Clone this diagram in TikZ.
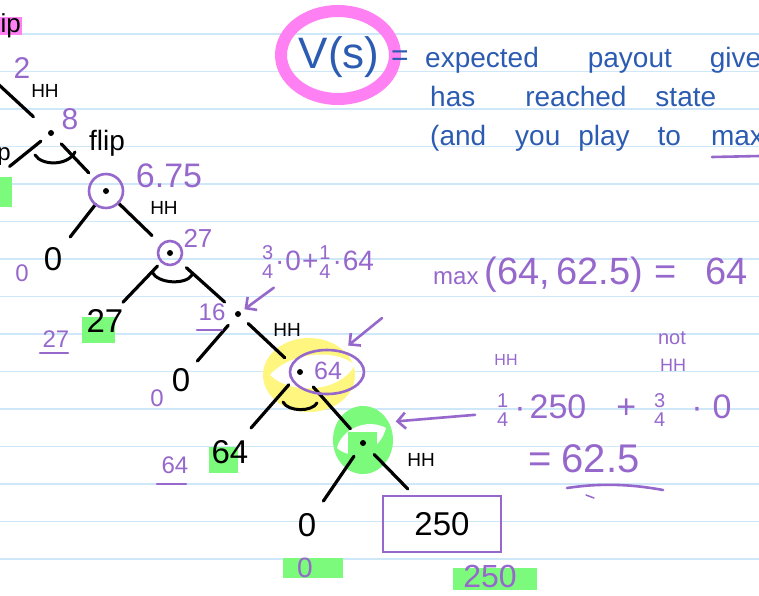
\documentclass[tikz,border=0pt]{standalone}
\usepackage{fontspec}
\setmainfont{Liberation Sans}
\usetikzlibrary{arrows.meta,calc,shapes.geometric}

\definecolor{pen}{RGB}{150,104,204}
\definecolor{ink}{RGB}{44,92,178}
\definecolor{rule}{RGB}{206,232,250}
\definecolor{hlpink}{RGB}{255,128,242}
\definecolor{hlyellow}{RGB}{255,246,128}
\definecolor{hlgreen}{RGB}{124,250,124}

\newcommand\sz[1]{\fontsize{#1}{#1}\selectfont}
\newcommand\stk[2]{{\sz{20}\begin{tabular}{@{}c@{}}#1\\[-1pt]#2\end{tabular}}}

\tikzset{
  edge/.style={line width=3.2pt, line cap=round},
  maxarc/.style={line width=3pt, line cap=round},
  dot/.style={circle, fill=black, inner sep=0pt, minimum size=6pt},
  leaf/.style={inner sep=0pt, font=\sz{33}},
  hh/.style={inner sep=0pt, font=\sz{19}},
  val/.style={inner sep=0pt, text=pen},
  penline/.style={pen, line width=2.6pt, line cap=round},
  note/.style={text=ink, inner sep=0pt, anchor=base west, font=\sz{28}},
  barb/.style={-{Straight Barb[length=8pt,width=16pt]}},
}

\begin{document}
\begin{tikzpicture}[x=1pt,y=-1pt]
\path[use as bounding box, clip] (0,0) rectangle (759,595);
\fill[white] (0,0) rectangle (759,595);
\foreach \k in {0,...,14}
  \draw[rule, line width=1.2pt] (0,34+37.5*\k) -- (759,34+37.5*\k);

% highlighter
\fill[hlpink] (0,17) rectangle (22,35);
\fill[hlgreen] (0,177) rectangle (12,207);
\fill[hlgreen] (82,317) rectangle (115,343);
\fill[hlgreen] (209,447) rectangle (238,473);
\fill[hlgreen] (283,558) rectangle (343,578);
\fill[hlgreen] (453,568) rectangle (537,590);
\fill[hlyellow] (309,375) ellipse [x radius=46, y radius=37];
\fill[white] (270,375) .. controls (290,352) and (335,348) .. (355,365)
  .. controls (340,392) and (292,396) .. (270,375);
\node[ellipse, fill=hlgreen, minimum width=60pt, minimum height=68pt, inner sep=0pt] (gblob) at (363,440) {};
\fill[white] (337,448) .. controls (342,428) and (368,418) .. (386,428)
  .. controls (380,452) and (352,462) .. (337,448);
\fill[hlgreen] (348,432) rectangle (377,457);
\draw[hlpink, line width=12pt] (338,55) ellipse [x radius=57, y radius=44];

% tree
\node[dot] (n8) at (51,133) {};
\node[dot] (n675) at (106,191) {};
\node[dot] (n27) at (170,253) {};
\node[dot] (n16) at (238,314) {};
\node[dot] (n64) at (300,372) {};
\node[dot] (nch) at (363,443) {};
\node[leaf] (l0a) at (53,259) {0};
\node[leaf] (l27) at (105,321) {27};
\node[leaf] (l0b) at (181,380) {0};
\node[leaf] (l64) at (230,452) {64};
\node[leaf] (l0c) at (307,525) {0};
\node[
    leaf,
    draw=pen,
    line width=2.6pt,
    minimum width=118pt,
    minimum height=56pt
] (l250) at (442,524) {250};
\coordinate (up) at (-29,59);
\coordinate (stop) at (-6,179);

\draw[edge, shorten >=24pt] (up) -- (n8.center);
\draw[edge, shorten <=13pt, shorten >=20pt] (n8.center) -- (stop);
\draw[edge, shorten <=15pt, shorten >=25pt] (n8.center) -- (n675.center);
\draw[edge, shorten <=17pt, shorten >=28pt] (n675.center) -- (l0a.center);
\draw[edge, shorten <=17pt, shorten >=25pt] (n675.center) -- (n27.center);
\draw[edge, shorten <=18pt, shorten >=26pt] (n27.center) -- (l27.center);
\draw[edge, shorten <=22pt, shorten >=18pt] (n27.center) -- (n16.center);
\draw[edge, shorten <=15pt, shorten >=25pt] (n16.center) -- (l0b.center);
\draw[edge, shorten <=14pt, shorten >=21pt] (n16.center) -- (n64.center);
\draw[edge, shorten <=17pt, shorten >=32pt] (n64.center) -- (l64.center);
\draw[edge, shorten <=20pt, shorten >=19pt] (n64.center) -- (nch.center);
\draw[edge, shorten <=16pt, shorten >=29pt] (nch.center) -- (l0c.center);
\draw[edge, shorten <=16pt, shorten >=8pt] (nch.center) -- (l250);

\draw[maxarc] (35,155) .. controls (42,166) and (68,166) .. (75,152);
\draw[maxarc] (152,272) .. controls (158,284) and (186,285) .. (192,275);
\draw[maxarc] (283,402) .. controls (288,412) and (312,412) .. (317,403);

% purple pen
\draw[pen, line width=2.6pt] (n675) circle [radius=17];
\draw[pen, line width=2.6pt] (n27) circle [radius=12];
\node[ellipse, draw=pen, line width=2.6pt, minimum width=74pt, minimum height=44pt, inner sep=0pt] (ring64) at (327,372) {};

\node[inner sep=0pt, font=\sz{26}, anchor=base east] (tflip) at (21,32) {ip};
\node[inner sep=0pt, font=\sz{24}, anchor=base east] (tstop) at (11,160) {op};
\node[val, font=\sz{30}] (v2) at (22,68) {2};
\node[hh] (h1) at (45,91) {HH};
\node[val, font=\sz{30}] (v8) at (70,119) {8};
\node[inner sep=0pt, font=\sz{28}] (flip) at (107,143) {flip};
\node[val, font=\sz{34}] (v675) at (169,176) {6.75};
\node[hh] (h2) at (164,208) {HH};
\node[val, font=\sz{24}] (v0a) at (22,273) {0};
\node[val, font=\sz{26}] (v27) at (198,238) {27};
\node[val, font=\sz{24}] (u27) at (56,339) {27};
\draw[penline] (40,353) -- (68,353);
\node[val, font=\sz{24}] (v16) at (212,312) {16};
\draw[penline] (197,330) -- (222,330);
\node[hh] (h3) at (287,330) {HH};
\node[val, font=\sz{28}] (f64) at (318,265) {\stk{3}{4}\hspace{2pt}·\hspace{1pt}0\hspace{1pt}+\hspace{1pt}\stk{1}{4}\hspace{2pt}·\hspace{1pt}64};
\draw[penline, barb, shorten >=8pt] ($(f64.south west)+(12,3)$) -- (n16.center);
\node[val, font=\sz{25}] (v64) at (328,371) {64};
\coordinate (amx) at (382,318);
\draw[penline, barb, shorten >=8pt] (amx) -- (ring64.55);
\node[val, font=\sz{24}] (v0b) at (157,398) {0};
\node[val, font=\sz{24}] (u64) at (175,465) {64};
\draw[penline] (157,484) -- (186,484);
\node[hh] (h4) at (421,460) {HH};
\node[val, font=\sz{28}] (u0c) at (305,568) {0};
\node[val, font=\sz{32}] (u250) at (490,576) {250};

% definition
\node[inner sep=0pt, text=ink, font=\sz{44}] (vs) at (339,57) {V(s)};
\node[inner sep=0pt, text=ink, font=\sz{30}] (eq) at (400,58) {=};
\node[note] (t1) at (425,67) {expected\hspace{49pt}payout\hspace{38pt}given};
\node[note] (t2) at (430,106) {has\hspace{50pt}reached\hspace{29pt}state};
\node[note] (t3) at (430,145) {(and\hspace{29pt}you\hspace{18pt}play\hspace{28pt}to\hspace{30pt}max};
\draw[penline] (712,157) -- (760,156);

% working
\node[val, anchor=base west] (fmax) at (433,284)
  {{\sz{24}max}\hspace{6pt}{\sz{38}(64,\,62.5)\hspace{12pt}=\hspace{28pt}64}};
\node[val, font=\sz{16}] (phh) at (506,360) {HH};
\node[val, font=\sz{20}] (pnot) at (672,338) {not};
\node[val, font=\sz{18}] (pnhh) at (673,365) {HH};
\node[val, font=\sz{34}, anchor=west] (f250) at (497,413)
  {\stk{1}{4}\hspace{6pt}·\hspace{4pt}250\hspace{30pt}+\hspace{18pt}\stk{3}{4}\hspace{26pt}·\hspace{10pt}0};
\node[val, font=\sz{40}, anchor=base west] (r625) at (528,472) {=\hspace{10pt}62.5};
\draw[penline] (567,488) .. controls (600,483) and (630,484) .. (663,490);
\draw[pen, line width=1.5pt, line cap=round] (586,495) -- (594,498);
\draw[penline, barb, shorten <=22pt, shorten >=7pt] (f250.west) -- (gblob.35);
\end{tikzpicture}
\end{document}
